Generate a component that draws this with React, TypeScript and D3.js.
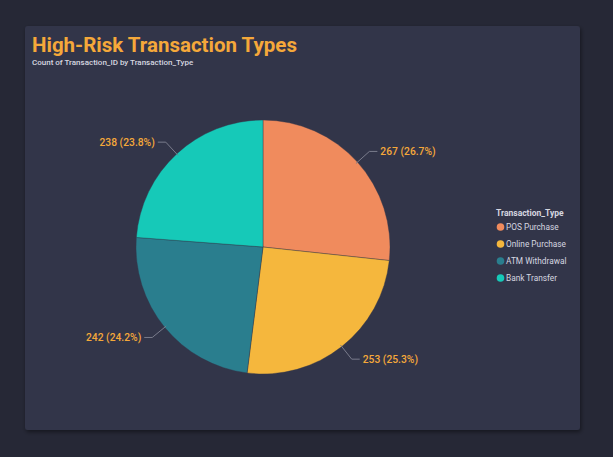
import React from "react";
import * as d3 from "d3";

const categories = ["POS Purchase", "Online Purchase", "ATM Withdrawal", "Bank Transfer"];
const values = [267, 253, 242, 238];
const colors = ["#F08B5D", "#F5B73D", "#2A7E8E", "#16C9B8"];
const title = "High-Risk Transaction Types";
const subtitle = "Count of Transaction_ID by Transaction_Type";
const legendTitle = "Transaction_Type";

const W = 613;
const H = 457;
const FONT = "Roboto, 'DejaVu Sans Condensed', sans-serif";

export default function App() {
  const cx = 263;
  const cy = 247;
  const r = 127;
  const total = d3.sum(values);
  const pie = d3.pie<number>().sort(null).value((d) => d);
  const arcs = pie(values);
  const arcGen = d3.arc<d3.PieArcDatum<number>>().innerRadius(0).outerRadius(r);

  return (
    <svg width={W} height={H} style={{ position: "fixed", left: 0, top: 0 }}>
      <defs>
        <filter id="sh" x="-10%" y="-10%" width="120%" height="120%">
          <feDropShadow dx="1" dy="2" stdDeviation="2" floodColor="#000" floodOpacity="0.45" />
        </filter>
      </defs>
      <rect x={0} y={0} width={W} height={H} fill="#262836" />
      <rect x={25} y={26} width={555} height={404} rx={3} fill="#333549" filter="url(#sh)" />
      <text x={32} y={52} fill="#F5A83A" fontFamily={FONT} fontWeight={700} fontSize={20.5}>
        {title}
      </text>
      <text x={32} y={65} fill="#D6D7E0" fontFamily={FONT} fontWeight={500} fontSize={8}>
        {subtitle}
      </text>
      <g transform={`translate(${cx},${cy})`}>
        {arcs.map((a, i) => (
          <path key={i} d={arcGen(a) || ""} fill={colors[i]} stroke="#333549" strokeWidth={0.4} />
        ))}
        {arcs.map((a, i) => {
          const mid = (a.startAngle + a.endAngle) / 2;
          const sx = Math.sin(mid);
          const sy = -Math.cos(mid);
          const p0 = [sx * (r - 2), sy * (r - 2)];
          const p1 = [sx * (r + 16), sy * (r + 16)];
          const dir = sx >= 0 ? 1 : -1;
          const p2 = [p1[0] + dir * 8, p1[1]];
          const pct = ((values[i] / total) * 100).toFixed(1);
          return (
            <g key={"l" + i}>
              <polyline
                points={`${p0[0]},${p0[1]} ${p1[0]},${p1[1]} ${p2[0]},${p2[1]}`}
                fill="none"
                stroke="#7A7C8C"
                strokeWidth={1}
              />
              <text
                x={p2[0] + dir * 3}
                y={p2[1]}
                dy="0.35em"
                textAnchor={dir > 0 ? "start" : "end"}
                fill="#F5A83A"
                fontFamily={FONT}
                fontWeight={500}
                fontSize={10.3}
              >
                {`${values[i]} (${pct}%)`}
              </text>
            </g>
          );
        })}
      </g>
      <g transform="translate(496,0)">
        <text x={0} y={216} fill="#D6D7E0" fontFamily={FONT} fontWeight={700} fontSize={8.5}>
          {legendTitle}
        </text>
        {categories.map((c, i) => (
          <g key={c} transform={`translate(0,${227 + i * 17})`}>
            <circle cx={4.5} cy={0} r={3.8} fill={colors[i]} />
            <text x={10} y={0} dy="0.35em" fill="#D6D7E0" fontFamily={FONT} fontSize={8.3}>
              {c}
            </text>
          </g>
        ))}
      </g>
    </svg>
  );
}
